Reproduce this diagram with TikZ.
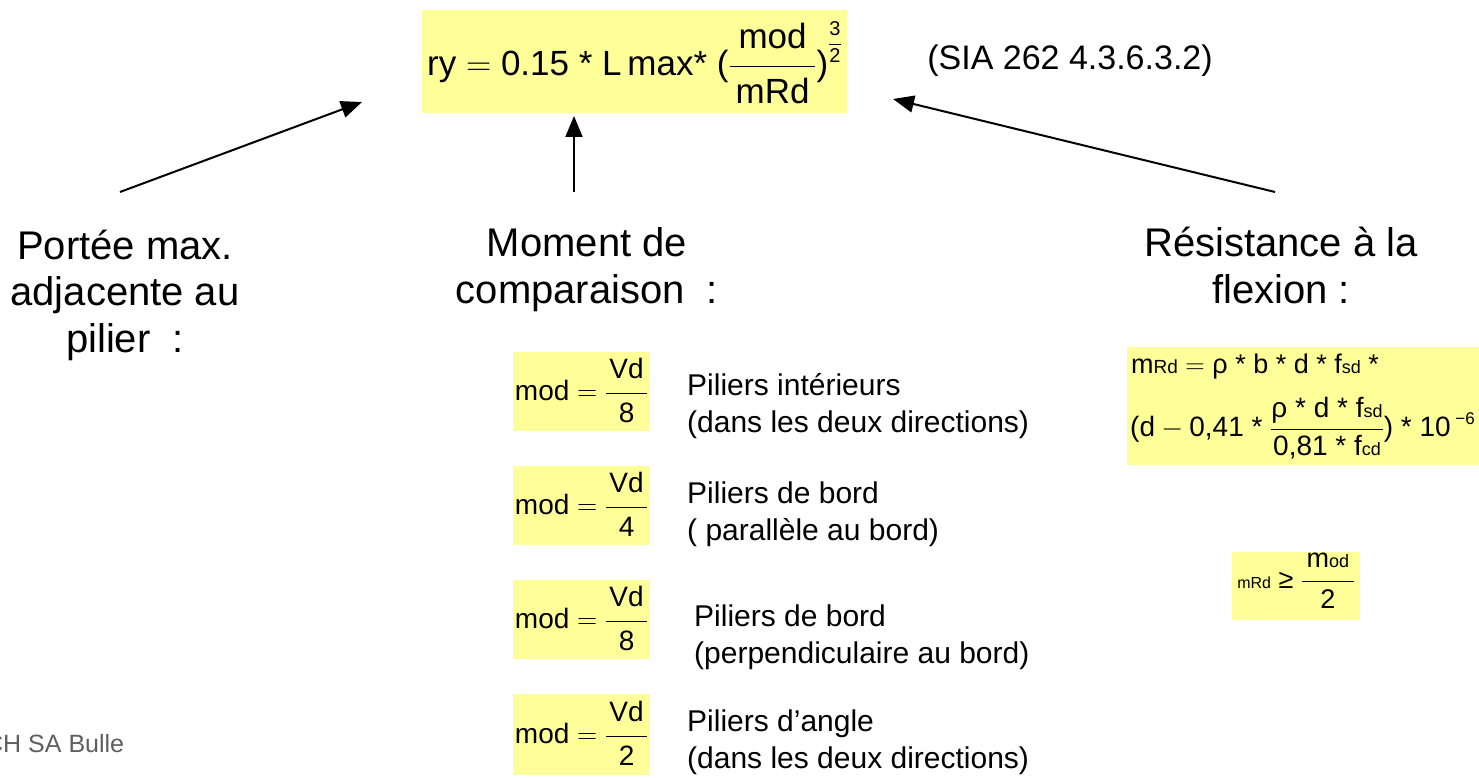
\RequirePackage{fix-cm}
\documentclass[tikz,border=0pt]{standalone}
\usepackage{amsmath}
\usepackage{fontspec}
\setmainfont{Liberation Sans}
\usetikzlibrary{arrows.meta}
\definecolor{hl}{HTML}{FFFF99}
\definecolor{footgray}{HTML}{5F5F5F}
\newcommand{\setfs}[1]{\fontsize{#1}{#1}\selectfont}
\newcommand{\up}[2]{\text{\raisebox{#1}{#2}}}

\tikzset{
  hlbox/.style={fill=hl, draw=none, inner sep=0pt},
  modbox/.style={hlbox, anchor=north, minimum width=137, minimum height=79,
    text height=48pt, text depth=31pt},
  title/.style={align=center, anchor=base, inner sep=0pt,
    font=\fontsize{40}{46.5}\selectfont},
  note/.style={align=left, anchor=base west, inner sep=0pt,
    font=\fontsize{30}{37}\selectfont},
  arr/.style={line width=2pt, -{Triangle[length=21pt,width=17pt]}},
}

\begin{document}
\begin{tikzpicture}[x=1pt,y=-1pt]
\useasboundingbox (0,0) rectangle (1479,778);

% main relation
\node[hlbox, anchor=north, minimum width=425, minimum height=103,
      text height=65pt, text depth=38pt] (ry) at (634.5,10)
  {\setfs{35}$\text{ry} = \text{0.15 * L\,max* (}\dfrac{\,\up{3pt}{mod}\,}{\,\up{-4pt}{mRd}\,}\text{)}\text{\raisebox{26pt}{\setfs{20}$\dfrac{\text{3}}{\text{2}}$}}$};
\node[anchor=base, inner sep=0pt, font=\setfs{34}] (sia) at (1070,70) {(SIA 262 4.3.6.3.2)};

% three inputs (anchored on their last line)
\node[title] (portee) at (125,352) {Portée max.\\adjacente au\\pilier\ \ :};
\node[title] (moment) at (587,303) {Moment de\\comparaison\ \ :};
\node[title] (resist) at (1281,303) {Résistance à la\\flexion :};

% arrows towards the relation
\coordinate (pa) at (120,192);
\coordinate (ta) at (362,102);
\coordinate (pb) at (574,192);
\coordinate (tb) at (574,116);
\coordinate (pc) at (1275,192);
\coordinate (tc) at (893,99);
\draw[arr] (pa) -- (ta);
\draw[arr] (pb) -- (tb);
\draw[arr] (pc) -- (tc);

% comparison moments
\node[modbox] (m1) at (581.5,352)
  {\setfs{28}$\text{mod} = \dfrac{\mkern2mu\up{3pt}{Vd}\mkern2mu}{\up{-3pt}{8}}$};
\node[note] (n1) at (687,432) {Piliers intérieurs\\(dans les deux directions)};

\node[modbox] (m2) at (581.5,466)
  {\setfs{28}$\text{mod} = \dfrac{\mkern2mu\up{3pt}{Vd}\mkern2mu}{\up{-3pt}{4}}$};
\node[note] (n2) at (687,540) {Piliers de bord\\( parallèle au bord)};

\node[modbox] (m3) at (581.5,580)
  {\setfs{28}$\text{mod} = \dfrac{\mkern2mu\up{3pt}{Vd}\mkern2mu}{\up{-3pt}{8}}$};
\node[note] (n3) at (694,663) {Piliers de bord\\(perpendiculaire au bord)};

\node[modbox, minimum height=81] (m4) at (581.5,694)
  {\setfs{28}$\text{mod} = \dfrac{\mkern2mu\up{3pt}{Vd}\mkern2mu}{\up{-3pt}{2}}$};
\node[note] (n4) at (687,768) {Piliers d’angle\\(dans les deux directions)};

% bending resistance
\node[hlbox, anchor=north west, minimum width=360, minimum height=118] (rbox) at (1127,347) {};
\node[anchor=base west, inner sep=0pt] (r1) at (1131,373)
  {\setfs{27}m{\setfs{19}Rd} $=$ ρ * b * d * f{\setfs{18}sd} *};
\node[anchor=west, inner sep=0pt] (r2) at (1130,428)
  {\setfs{28}$\text{(d} - \text{0,41 * }\dfrac{\text{ρ * d * f{\setfs{18}sd}}}{\text{0,81 * f{\setfs{18}cd}}}\text{) * 10\,\raisebox{12pt}{\setfs{17}−6}}$};

\node[hlbox, anchor=north, minimum width=128, minimum height=68,
      text height=36pt, text depth=32pt] (cond) at (1296,552)
  {\setfs{27}$\text{\setfs{16}mRd} \mathrel{\text{≥}} \dfrac{\,\up{2pt}{m{\setfs{18}od}}\,}{\,\up{-2pt}{2}\,}$};

% footer
\node[anchor=base west, inner sep=0pt, text=footgray, font=\setfs{25}] (foot) at (-15,752) {CH SA Bulle};
\end{tikzpicture}
\end{document}
